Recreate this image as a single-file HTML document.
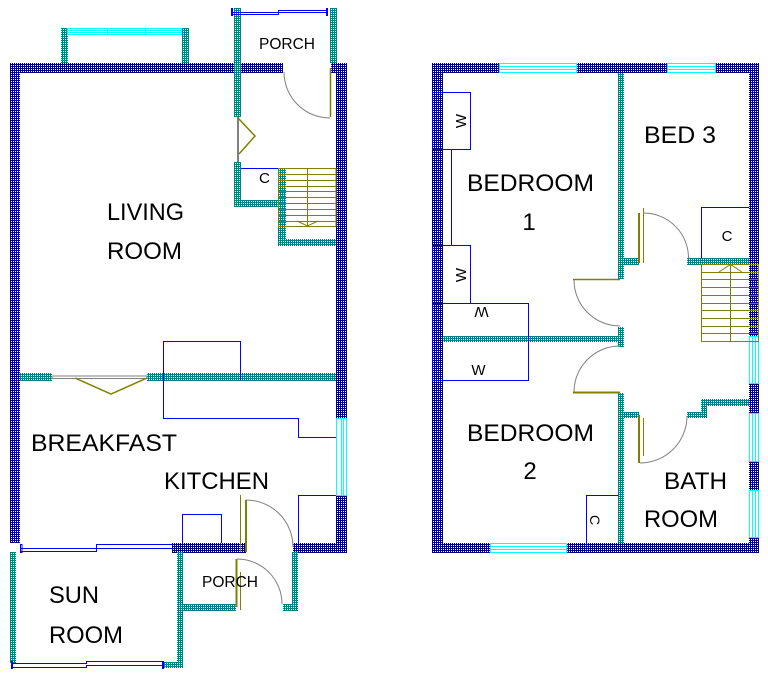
<!DOCTYPE html>
<html><head><meta charset="utf-8"><style>
html,body{margin:0;padding:0;background:#fff;}
svg{display:block;}
text{font-family:"Liberation Sans",Arial,sans-serif;fill:#000;}
</style></head><body>
<svg width="768" height="676" viewBox="0 0 768 676" xmlns="http://www.w3.org/2000/svg">
<defs>
<pattern id="pn" width="2" height="2" patternUnits="userSpaceOnUse"><rect width="2" height="2" fill="#000080"/><rect x="1" y="1" width="1" height="1" fill="#fff"/></pattern>
<pattern id="pt" width="2" height="2" patternUnits="userSpaceOnUse"><rect width="2" height="2" fill="#008080"/><rect x="1" y="1" width="1" height="1" fill="#fff"/></pattern>
</defs>
<rect width="768" height="676" fill="#fff"/>

<!-- ================= GROUND FLOOR ================= -->
<g shape-rendering="crispEdges">
<!-- navy walls -->
<g fill="url(#pn)">
<rect x="10" y="63" width="273" height="10"/>
<rect x="331" y="63" width="16" height="10"/>
<rect x="10" y="63" width="10" height="480"/>
<rect x="336" y="63" width="11" height="355"/>
<rect x="336" y="496" width="11" height="57"/>
<rect x="172" y="543" width="74" height="10"/>
<rect x="293" y="543" width="54" height="10"/>
</g>
<!-- teal walls -->
<g fill="url(#pt)">
<rect x="61" y="28" width="7" height="35"/>
<rect x="182" y="28" width="7" height="35"/>
<rect x="234" y="8" width="7" height="109"/>
<rect x="330" y="8" width="7" height="55"/>
<rect x="234" y="162" width="7" height="45"/>
<rect x="234" y="200" width="44" height="7"/>
<rect x="278" y="168" width="8" height="78"/>
<rect x="278" y="239" width="58" height="7"/>
<rect x="20" y="373" width="32" height="8"/>
<rect x="147" y="373" width="189" height="8"/>
<rect x="10" y="552" width="6" height="111"/>
<rect x="177" y="552" width="6" height="116"/>
<rect x="163" y="662" width="20" height="6"/>
<rect x="183" y="604" width="53" height="7"/>
<rect x="292" y="552" width="6" height="58"/>
<rect x="283" y="604" width="15" height="7"/>
</g>
</g>

<g fill="none" stroke-width="1">
<!-- bay window -->
<g stroke="#00ffff">
<rect x="67.5" y="28.5" width="114" height="6"/>
<line x1="67" y1="30.5" x2="182" y2="30.5"/>
<line x1="67" y1="32.5" x2="182" y2="32.5"/>
<line x1="107.5" y1="28" x2="107.5" y2="35"/>
<line x1="145.5" y1="28" x2="145.5" y2="35"/>
</g>
<!-- porch top window -->
<g stroke="#0000ff">
<path d="M233,12.5 H278.5 V10.5 H327"/>
<path d="M233,14.5 H278.5 V12.5 H327"/>
<rect x="231" y="8" width="2" height="8" fill="#0000ff" stroke="none"/>
<rect x="326" y="8" width="2" height="8" fill="#0000ff" stroke="none"/>
</g>
<!-- porch door top -->
<path d="M284,72 A46,46 0 0 0 330,118" stroke="#808080"/>
<line x1="330.5" y1="68" x2="330.5" y2="117" stroke="#808000" stroke-width="1.5"/>
<!-- bifold to living -->
<line x1="238" y1="117" x2="238" y2="162" stroke="#808080" stroke-width="2"/>
<polyline points="238,118 255,136 239,154" stroke="#808000" stroke-width="1.5"/>
<!-- cupboard -->
<line x1="241" y1="168.5" x2="278" y2="168.5" stroke="#0000ff"/>
<!-- stairs ground -->
<g stroke="#808000">
<rect x="278.5" y="168.5" width="57.5" height="58"/>
<line x1="278" y1="174.5" x2="336" y2="174.5"/>
<line x1="278" y1="180.5" x2="336" y2="180.5"/>
<line x1="278" y1="186.5" x2="336" y2="186.5"/>
<line x1="278" y1="191.5" x2="336" y2="191.5"/>
<line x1="278" y1="197.5" x2="336" y2="197.5"/>
<line x1="278" y1="203.5" x2="336" y2="203.5"/>
<line x1="278" y1="209.5" x2="336" y2="209.5"/>
<line x1="278" y1="215.5" x2="336" y2="215.5"/>
<line x1="278" y1="221.5" x2="336" y2="221.5"/>
<line x1="307.5" y1="168" x2="307.5" y2="226"/>
<polyline points="297,221 307.5,226 318,221"/>
</g>
<!-- partition door -->
<rect x="52" y="376" width="95" height="2.5" stroke="#808080"/>
<polyline points="75,378 111,394 147,378" stroke="#808000" stroke-width="1.5"/>
<!-- chimney outline -->
<g stroke="#0000ff">
<path d="M240.5,380 V341.5 H163.5 V418.5 H298.5 V437.5 H336"/>
<path d="M298.5,543 V495.5 H336"/>
<path d="M182.5,543 V514.5 H221.5 V543"/>
</g>
<!-- right kitchen window -->
<g stroke="#00ffff">
<rect x="336.5" y="418.5" width="10" height="77"/>
<line x1="341.5" y1="418" x2="341.5" y2="496"/>
<line x1="343.5" y1="418" x2="343.5" y2="496"/>
</g>
<!-- kitchen door -->
<line x1="240.5" y1="495" x2="240.5" y2="552" stroke="#808000"/>
<line x1="246" y1="500" x2="246" y2="552" stroke="#808000" stroke-width="2"/>
<path d="M246,500 A47,47 0 0 1 293,547" stroke="#808080"/>
<!-- kitchen bottom window -->
<g stroke="#0000ff">
<path d="M21,548.5 H96.5 V544.5 H172"/>
<path d="M21,551.5 H96.5 V548.5 H172"/>
<rect x="20.5" y="544.5" width="1.5" height="8"/>
</g>
<!-- porch bottom door -->
<line x1="236.5" y1="559" x2="236.5" y2="607" stroke="#808000" stroke-width="2"/>
<line x1="240.5" y1="572" x2="240.5" y2="610" stroke="#808000"/>
<path d="M237,559 A45,45 0 0 1 282,604" stroke="#808080"/>
<!-- sun room window -->
<g stroke="#0000ff">
<path d="M12,663.5 H86.5 V661.5 H163"/>
<path d="M12,667.5 H86.5 V665.5 H163"/>
<rect x="11" y="661" width="2" height="8" fill="#0000ff" stroke="none"/>
<rect x="162" y="661" width="2" height="8" fill="#0000ff" stroke="none"/>
</g>
</g>

<!-- ground labels -->
<text x="107" y="220" font-size="24" textLength="77" lengthAdjust="spacingAndGlyphs">LIVING</text>
<text x="107" y="259" font-size="24" textLength="75" lengthAdjust="spacingAndGlyphs">ROOM</text>
<text x="31" y="451" font-size="24" textLength="146" lengthAdjust="spacingAndGlyphs">BREAKFAST</text>
<text x="164" y="489" font-size="24" textLength="105" lengthAdjust="spacingAndGlyphs">KITCHEN</text>
<text x="49" y="603" font-size="24" textLength="50" lengthAdjust="spacingAndGlyphs">SUN</text>
<text x="49" y="643" font-size="24" textLength="74" lengthAdjust="spacingAndGlyphs">ROOM</text>
<text x="259" y="49" font-size="16" textLength="56" lengthAdjust="spacingAndGlyphs">PORCH</text>
<text x="202" y="587" font-size="16" textLength="56" lengthAdjust="spacingAndGlyphs">PORCH</text>
<text x="259" y="183" font-size="15" textLength="11" lengthAdjust="spacingAndGlyphs">C</text>

<!-- ================= FIRST FLOOR ================= -->
<g shape-rendering="crispEdges">
<g fill="url(#pn)">
<rect x="432" y="63" width="67" height="10"/>
<rect x="577" y="63" width="90" height="10"/>
<rect x="716" y="63" width="43" height="10"/>
<rect x="432" y="63" width="11" height="490"/>
<rect x="749" y="63" width="10" height="273"/>
<rect x="749" y="384" width="10" height="29"/>
<rect x="749" y="462" width="10" height="28"/>
<rect x="749" y="538" width="10" height="15"/>
<rect x="432" y="543" width="58" height="10"/>
<rect x="567" y="543" width="192" height="10"/>
</g>
<g fill="url(#pt)">
<rect x="618" y="73" width="6" height="206"/>
<rect x="624" y="258" width="15" height="7"/>
<rect x="687" y="258" width="62" height="7"/>
<rect x="443" y="336" width="177" height="6"/>
<rect x="618" y="327" width="6" height="20"/>
<rect x="618" y="393" width="6" height="150"/>
<rect x="624" y="412" width="15" height="6"/>
<rect x="687" y="412" width="20" height="6"/>
<rect x="701" y="399" width="6" height="19"/>
<rect x="701" y="399" width="48" height="7"/>
</g>
</g>

<g fill="none" stroke-width="1">
<!-- windows -->
<g stroke="#00ffff">
<rect x="499.5" y="63.5" width="77" height="9"/>
<line x1="499" y1="66.5" x2="577" y2="66.5"/>
<line x1="499" y1="69.5" x2="577" y2="69.5"/>
<rect x="667.5" y="63.5" width="48" height="9"/>
<line x1="667" y1="66.5" x2="716" y2="66.5"/>
<line x1="667" y1="69.5" x2="716" y2="69.5"/>
<rect x="490.5" y="543.5" width="76" height="9"/>
<line x1="490" y1="546.5" x2="567" y2="546.5"/>
<line x1="490" y1="549.5" x2="567" y2="549.5"/>
<rect x="749.5" y="336.5" width="9" height="47"/>
<line x1="752.5" y1="336" x2="752.5" y2="384"/>
<line x1="755.5" y1="336" x2="755.5" y2="384"/>
<rect x="749.5" y="413.5" width="9" height="48"/>
<line x1="752.5" y1="413" x2="752.5" y2="462"/>
<line x1="755.5" y1="413" x2="755.5" y2="462"/>
<rect x="749.5" y="490.5" width="9" height="47"/>
<line x1="752.5" y1="490" x2="752.5" y2="538"/>
<line x1="755.5" y1="490" x2="755.5" y2="538"/>
</g>
<!-- wardrobes / cupboards -->
<g stroke="#0000ff">
<rect x="432.5" y="92.5" width="38" height="57"/>
<line x1="451.5" y1="149" x2="451.5" y2="245"/>
<rect x="432.5" y="245.5" width="38" height="58"/>
<rect x="432.5" y="303.5" width="96" height="77"/>
<path d="M701.5,258 V207.5 H749"/>
<path d="M586.5,553 V495.5 H618"/>
</g>
<!-- doors -->
<line x1="639" y1="213" x2="639" y2="263" stroke="#808000" stroke-width="2"/>
<line x1="643.5" y1="208" x2="643.5" y2="263" stroke="#808000"/>
<path d="M643.5,213 A45,45 0 0 1 688.5,258" stroke="#808080"/>
<line x1="573" y1="279.5" x2="620" y2="279.5" stroke="#808000" stroke-width="1.5"/>
<path d="M574,280 A46,46 0 0 0 620,326" stroke="#808080"/>
<line x1="573" y1="392.5" x2="620" y2="392.5" stroke="#808000" stroke-width="2"/>
<path d="M620,346 A46,46 0 0 0 574,392" stroke="#808080"/>
<line x1="639" y1="415" x2="639" y2="463" stroke="#808000" stroke-width="2"/>
<line x1="643.5" y1="418" x2="643.5" y2="456" stroke="#808000"/>
<path d="M640,463 A47,47 0 0 0 687,416" stroke="#808080"/>
<!-- stairs upper -->
<g stroke="#808000">
<rect x="701.5" y="264.5" width="57" height="77"/>
<line x1="701" y1="272.5" x2="759" y2="272.5"/>
<line x1="701" y1="279.5" x2="759" y2="279.5"/>
<line x1="701" y1="287.5" x2="759" y2="287.5"/>
<line x1="701" y1="295.5" x2="759" y2="295.5"/>
<line x1="701" y1="303.5" x2="759" y2="303.5"/>
<line x1="701" y1="310.5" x2="759" y2="310.5"/>
<line x1="701" y1="318.5" x2="759" y2="318.5"/>
<line x1="701" y1="326.5" x2="759" y2="326.5"/>
<line x1="701" y1="333.5" x2="759" y2="333.5"/>
<line x1="730.5" y1="264" x2="730.5" y2="342"/>
<polyline points="719,272 730.5,264.5 742,272"/>
</g>
</g>

<!-- upper labels -->
<text x="467" y="191" font-size="24" textLength="127" lengthAdjust="spacingAndGlyphs">BEDROOM</text>
<text x="529" y="230" font-size="24" text-anchor="middle">1</text>
<text x="644" y="143" font-size="24" textLength="72" lengthAdjust="spacingAndGlyphs">BED 3</text>
<text x="467" y="441" font-size="24" textLength="127" lengthAdjust="spacingAndGlyphs">BEDROOM</text>
<text x="530" y="479" font-size="24" text-anchor="middle">2</text>
<text x="664" y="489" font-size="24" textLength="63" lengthAdjust="spacingAndGlyphs">BATH</text>
<text x="644" y="527" font-size="24" textLength="74" lengthAdjust="spacingAndGlyphs">ROOM</text>
<text x="727" y="241" font-size="15" text-anchor="middle">C</text>
<text font-size="15" text-anchor="middle" transform="translate(466,121) rotate(-90)">W</text>
<text font-size="15" text-anchor="middle" transform="translate(466,275) rotate(-90)">W</text>
<text font-size="15" text-anchor="middle" transform="translate(481.5,307) rotate(180)">W</text>
<text x="478.5" y="375" font-size="15" text-anchor="middle">W</text>
<text font-size="14" text-anchor="middle" transform="translate(590,520) rotate(90)">C</text>
</svg>
</body></html>
